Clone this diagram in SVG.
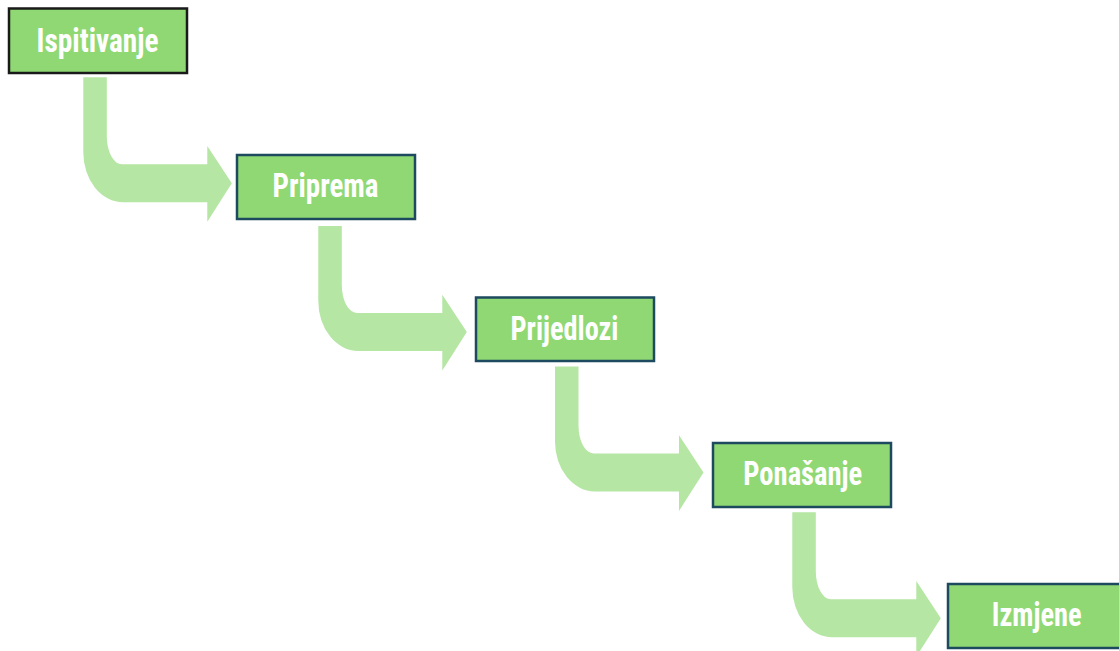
<svg xmlns="http://www.w3.org/2000/svg" width="1119" height="651" viewBox="0 0 1119 651">
  <style>
    .box { fill: #8fd873; stroke: #1d4a5f; stroke-width: 2.5; }
    .box.first { stroke: #1a1a1a; }
    .lbl { font-family: "Roboto Condensed", Roboto, "Liberation Sans", sans-serif; font-weight: bold; font-size: 33px; fill: #ffffff; text-anchor: middle; }
    .arr { fill: #b5e6a3; }
  </style>
  <defs>
    <path id="bent" d="M0,0 H23.5 V59 A15,28 0 0 0 38.5,87 H124 V68.7 L148.5,106 L124,144.4 V125 H40 A40,50 0 0 1 0,75 Z"/>
  </defs>
  <g id="connectors">
    <use href="#bent" class="arr" transform="translate(83.3,77.3)"/>
    <use href="#bent" class="arr" transform="translate(318.3,226)"/>
    <use href="#bent" class="arr" transform="translate(555,366.5)"/>
    <use href="#bent" class="arr" transform="translate(792.3,512.3)"/>
  </g>
  <g id="n1">
    <rect class="box first" x="9" y="8.5" width="178" height="64.5"/>
    <text class="lbl" x="97.5" y="51.7" textLength="122" lengthAdjust="spacingAndGlyphs">Ispitivanje</text>
  </g>
  <g id="n2">
    <rect class="box" x="237" y="155" width="178" height="64"/>
    <text class="lbl" x="325.5" y="196.7" textLength="106" lengthAdjust="spacingAndGlyphs">Priprema</text>
  </g>
  <g id="n3">
    <rect class="box" x="476" y="297.5" width="178" height="63.5"/>
    <text class="lbl" x="564.5" y="339.7" textLength="108" lengthAdjust="spacingAndGlyphs">Prijedlozi</text>
  </g>
  <g id="n4">
    <rect class="box" x="713" y="443" width="178" height="64"/>
    <text class="lbl" x="802.8" y="484.7" textLength="119" lengthAdjust="spacingAndGlyphs">Ponašanje</text>
  </g>
  <g id="n5">
    <rect class="box" x="948" y="584" width="178" height="64"/>
    <text class="lbl" x="1036.7" y="626" textLength="90" lengthAdjust="spacingAndGlyphs">Izmjene</text>
  </g>
</svg>
